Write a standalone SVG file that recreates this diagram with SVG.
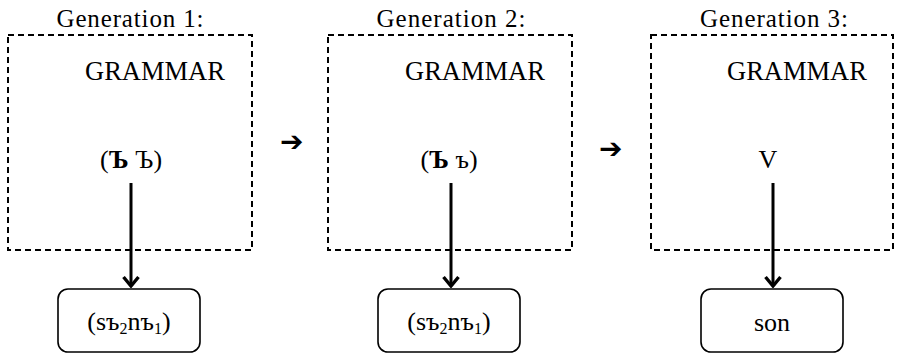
<svg xmlns="http://www.w3.org/2000/svg" width="897" height="355" viewBox="0 0 897 355">
<style>
.t{fill:#000;text-anchor:middle}
.title{font-size:25px}
.gram{font-size:26.5px}
.fm{font-size:26px}
.out{font-size:26px}
.sub{font-size:16px}
.dash{fill:none;stroke:#000;stroke-width:2;stroke-dasharray:6 4}
.node{fill:#fff;stroke:#000;stroke-width:1.6}
.conn{stroke:#000;stroke-width:3;fill:none}
.arr{font-size:28px;fill:#000}
</style>
<defs>
<marker id="ah" viewBox="0 0 16 18" refX="14" refY="9" markerWidth="16" markerHeight="18" markerUnits="userSpaceOnUse" orient="auto">
<path d="M5,1.5 L14,9 L5,16.5" fill="none" stroke="#000" stroke-width="3.4"/>
</marker>
</defs>
<g id="gen1" font-family="Liberation Serif, serif">
<text class="t title" x="130" y="27" textLength="147">Generation 1:</text>
<rect class="dash" x="8" y="35" width="244" height="215"/>
<text class="t gram" x="155" y="80">GRAMMAR</text>
<text class="t fm" x="131" y="168">(<tspan font-weight="bold">Ъ</tspan> Ъ)</text>
</g>
<g id="gen2" font-family="Liberation Serif, serif">
<text class="t title" x="451" y="27" textLength="149">Generation 2:</text>
<rect class="dash" x="328" y="35" width="244" height="215"/>
<text class="t gram" x="475" y="80">GRAMMAR</text>
<text class="t fm" x="449" y="168">(<tspan font-weight="bold">Ъ</tspan> ъ)</text>
</g>
<g id="gen3" font-family="Liberation Serif, serif">
<text class="t title" x="774" y="27" textLength="148">Generation 3:</text>
<rect class="dash" x="651" y="35" width="242" height="215"/>
<text class="t gram" x="797" y="80">GRAMMAR</text>
<text class="t fm" x="768" y="168">V</text>
</g>
<g id="out1" font-family="Liberation Serif, serif">
<rect class="node" x="58" y="289" width="142" height="63" rx="10"/>
<text class="t out" x="129" y="330">(sъ<tspan class="sub" dy="4">2</tspan><tspan dy="-4">nъ</tspan><tspan class="sub" dy="4">1</tspan><tspan dy="-4">)</tspan></text>
</g>
<g id="out2" font-family="Liberation Serif, serif">
<rect class="node" x="378" y="289" width="142" height="63" rx="10"/>
<text class="t out" x="449" y="330">(sъ<tspan class="sub" dy="4">2</tspan><tspan dy="-4">nъ</tspan><tspan class="sub" dy="4">1</tspan><tspan dy="-4">)</tspan></text>
</g>
<g id="out3" font-family="Liberation Serif, serif">
<rect class="node" x="701" y="289" width="142" height="63" rx="10"/>
<text class="t out" x="772" y="331">son</text>
</g>
<g id="connectors">
<line class="conn" x1="131" y1="183" x2="131" y2="286" marker-end="url(#ah)"/>
<line class="conn" x1="451" y1="183" x2="451" y2="286" marker-end="url(#ah)"/>
<line class="conn" x1="773" y1="183" x2="773" y2="286" marker-end="url(#ah)"/>
<text class="arr" x="280" y="151" font-family="DejaVu Sans, sans-serif">➔</text>
<text class="arr" x="599" y="158" font-family="DejaVu Sans, sans-serif">➔</text>
</g>
</svg>
